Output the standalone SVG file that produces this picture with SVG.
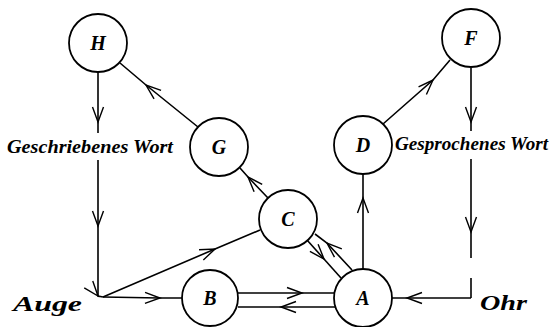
<svg xmlns="http://www.w3.org/2000/svg" width="555" height="327" viewBox="0 0 555 327">
<defs>
<marker id="v" markerUnits="userSpaceOnUse" markerWidth="20" markerHeight="14" viewBox="-16 -7 20 14" refX="0" refY="0" orient="auto" overflow="visible">
<path d="M-15,-5.5 L0,0 L-15,5.5" fill="none" stroke="#000" stroke-width="1.4"/>
</marker>
</defs>
<style>
.c{fill:#fff;stroke:#000;stroke-width:1.8}
.l{fill:none;stroke:#000;stroke-width:1.6;marker-mid:url(#v)}
.p{fill:none;stroke:#000;stroke-width:1.6}
.t{font-family:'Liberation Serif','DejaVu Serif',serif;font-weight:bold;font-style:italic;fill:#000}
.n{font-size:20px;text-anchor:middle}
</style>
<g id="connectors">
<path class="l" d="M98,72 L98,122 L98,133"/>
<path class="l" d="M98,160 L98,226 L98,296 L103,297"/>
<path class="l" d="M103,297 L160,298 L182,298"/>
<path class="l" d="M103,297 L215,249 L260,230"/>
<path class="l" d="M238,293 L302,293 L335,293"/>
<path class="l" d="M335,307 L281,307 L238,307"/>
<path class="l" d="M307,240 L324,259 L341,278"/>
<path class="l" d="M352,270 L327,243 L315,234"/>
<path class="l" d="M363,269 L363,198 L363,174"/>
<path class="l" d="M383,124 L433,80 L450,60"/>
<path class="l" d="M471,68 L471,122 L471,131"/>
<path class="l" d="M471,159 L471,232 L471,258"/>
<path class="p" d="M471,278 L471,298"/>
<path class="l" d="M471,298 L407,298 L392,298"/>
<path class="l" d="M198,127 L146,85 L120,63"/>
<path class="l" d="M268,198 L248,177 L240,168"/>
</g>
<g id="H"><circle class="c" cx="98" cy="43" r="29"/><text class="t n" x="98" y="50">H</text></g>
<g id="G"><circle class="c" cx="219" cy="147" r="29"/><text class="t n" x="219" y="154">G</text></g>
<g id="C"><circle class="c" cx="288" cy="219" r="29"/><text class="t n" x="288" y="226">C</text></g>
<g id="B"><circle class="c" cx="210" cy="298" r="28"/><text class="t n" x="210" y="305">B</text></g>
<g id="A"><circle class="c" cx="363" cy="298" r="29"/><text class="t n" x="363" y="305">A</text></g>
<g id="D"><circle class="c" cx="363" cy="145" r="29"/><text class="t n" x="363" y="152">D</text></g>
<g id="F"><circle class="c" cx="471" cy="38" r="29"/><text class="t n" x="471" y="45">F</text></g>
<g id="labels">
<text class="t" x="7" y="153" font-size="18" textLength="166" lengthAdjust="spacingAndGlyphs">Geschriebenes Wort</text>
<text class="t" x="395" y="150" font-size="18" textLength="153" lengthAdjust="spacingAndGlyphs">Gesprochenes Wort</text>
<text class="t" x="13" y="311" font-size="22" textLength="69" lengthAdjust="spacingAndGlyphs">Auge</text>
<text class="t" x="480" y="310" font-size="22" textLength="47" lengthAdjust="spacingAndGlyphs">Ohr</text>
</g>
</svg>
